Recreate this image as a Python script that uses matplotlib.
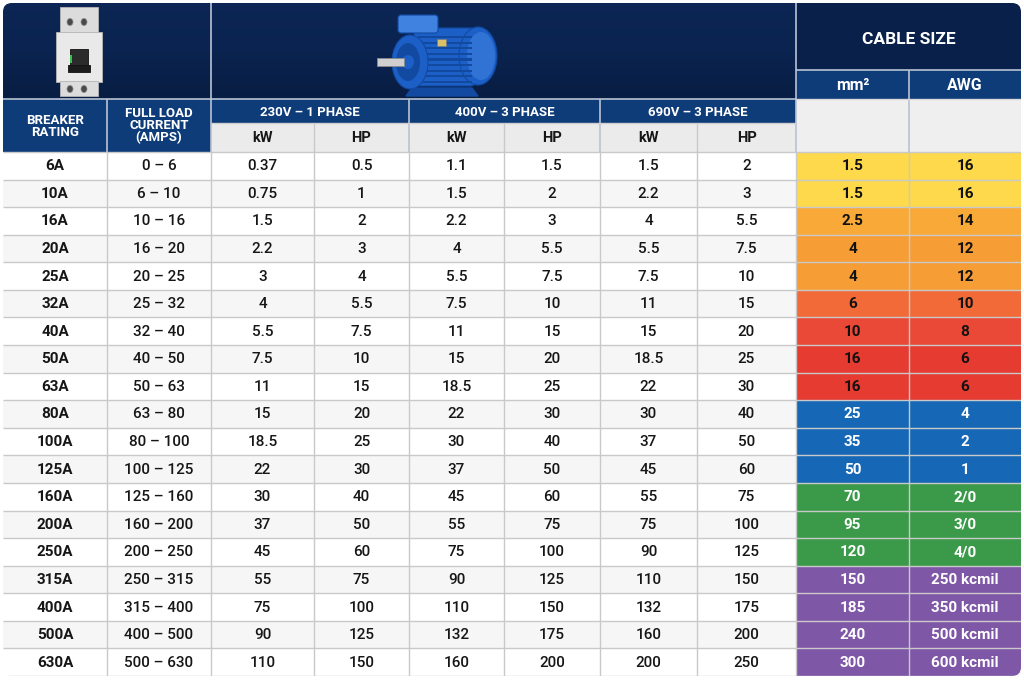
import matplotlib
matplotlib.use("Agg")
import matplotlib.pyplot as plt
from matplotlib.patches import Rectangle, FancyBboxPatch, Ellipse, Polygon

plt.rcParams['font.family'] = ['Roboto', 'DejaVu Sans']

# ---------------- data ----------------
breaker = ["6A", "10A", "16A", "20A", "25A", "32A", "40A", "50A", "63A", "80A",
           "100A", "125A", "160A", "200A", "250A", "315A", "400A", "500A", "630A"]
flc = ["0 – 6", "6 – 10", "10 – 16", "16 – 20", "20 – 25", "25 – 32", "32 – 40",
       "40 – 50", "50 – 63", "63 – 80", "80 – 100", "100 – 125", "125 – 160",
       "160 – 200", "200 – 250", "250 – 315", "315 – 400", "400 – 500", "500 – 630"]
kw230 = ["0.37", "0.75", "1.5", "2.2", "3", "4", "5.5", "7.5", "11", "15", "18.5",
         "22", "30", "37", "45", "55", "75", "90", "110"]
hp230 = ["0.5", "1", "2", "3", "4", "5.5", "7.5", "10", "15", "20", "25", "30",
         "40", "50", "60", "75", "100", "125", "150"]
kw400 = ["1.1", "1.5", "2.2", "4", "5.5", "7.5", "11", "15", "18.5", "22", "30",
         "37", "45", "55", "75", "90", "110", "132", "160"]
hp400 = ["1.5", "2", "3", "5.5", "7.5", "10", "15", "20", "25", "30", "40", "50",
         "60", "75", "100", "125", "150", "175", "200"]
kw690 = ["1.5", "2.2", "4", "5.5", "7.5", "11", "15", "18.5", "22", "30", "37",
         "45", "55", "75", "90", "110", "132", "160", "200"]
hp690 = ["2", "3", "5.5", "7.5", "10", "15", "20", "25", "30", "40", "50", "60",
         "75", "100", "125", "150", "175", "200", "250"]
mm2 = ["1.5", "1.5", "2.5", "4", "4", "6", "10", "16", "16", "25", "35", "50",
       "70", "95", "120", "150", "185", "240", "300"]
awg = ["16", "16", "14", "12", "12", "10", "8", "6", "6", "4", "2", "1", "2/0",
       "3/0", "4/0", "250 kcmil", "350 kcmil", "500 kcmil", "600 kcmil"]

group_labels = ["230V – 1 PHASE", "400V – 3 PHASE", "690V – 3 PHASE"]
sub_labels = ["kW", "HP"]
cable_title = "CABLE SIZE"
cable_sub = ["mm²", "AWG"]
left_headers = ["BREAKER\nRATING", "FULL LOAD\nCURRENT\n(AMPS)"]

cable_colors = ["#fdd94b", "#fdd94b", "#f9a937", "#f69d36", "#f69d36", "#f36a39",
                "#ea4937", "#e63b31", "#e63b31", "#1668b6", "#1668b6", "#1668b6",
                "#3a9a49", "#3a9a49", "#3a9a49", "#7f57a7", "#7f57a7", "#7f57a7",
                "#7f57a7"]
cable_text = ["#111111"] * 9 + ["#ffffff"] * 10

# ---------------- layout (pixel space) ----------------
W, H = 1024, 683
xe = [3, 107, 211, 314, 409, 504, 600, 697, 796, 909, 1021]
y_top, y_img, y_grp, y_sub, y_data = 3, 99, 123, 152, 152
y_cab_t = 70
nrows = len(breaker)
y_bot = 676
rh = (y_bot - y_data) / nrows

NAVY = "#0a2350"
NAVY2 = "#08204a"
BLUE = "#0e3c79"
LGRAY = "#ebebeb"
GRID = "#c9c9c9"
TXT = "#161616"

fig = plt.figure(figsize=(W / 100, H / 100), dpi=100)
ax = fig.add_axes([0, 0, 1, 1])
ax.set_xlim(0, W)
ax.set_ylim(H, 0)
ax.axis("off")

clip = FancyBboxPatch((xe[0], y_top), xe[-1] - xe[0], y_bot - y_top,
                      boxstyle="round,pad=0,rounding_size=9",
                      facecolor="none", edgecolor="none", transform=ax.transData)
ax.add_patch(clip)

def rect(x0, y0, x1, y1, fc, ec="none", lw=0, z=1):
    r = Rectangle((x0, y0), x1 - x0, y1 - y0, facecolor=fc, edgecolor=ec, lw=lw, zorder=z)
    ax.add_patch(r)
    r.set_clip_path(clip)
    return r

def line(xs, ys, c=GRID, lw=1.0, z=3):
    l, = ax.plot(xs, ys, color=c, lw=lw, zorder=z, solid_capstyle="butt")
    l.set_clip_path(clip)

# top header blocks
rect(xe[0], y_top, xe[8], y_img, NAVY)
rect(xe[8], y_top, xe[10], y_cab_t, NAVY2)
rect(xe[8], y_cab_t, xe[10], y_img, BLUE)
for i in range(12):
    a = 0.025
    rect(xe[0], y_top + i * 8, xe[8], y_top + i * 8 + 8, "#000000" if i > 5 else "#1a3a70", z=1.1).set_alpha(a * (abs(i - 5)))

# second header row
rect(xe[0], y_img, xe[2], y_sub, BLUE)
for g in range(3):
    rect(xe[2 + 2 * g], y_img, xe[4 + 2 * g], y_grp, BLUE)
    rect(xe[2 + 2 * g], y_grp, xe[4 + 2 * g], y_sub, LGRAY)
rect(xe[8], y_img, xe[10], y_sub, "#efefef")

# data rows
for i in range(nrows):
    y0 = y_data + i * rh
    rect(xe[0], y0, xe[8], y0 + rh, "#ffffff" if i % 2 == 0 else "#f6f6f6")
    rect(xe[8], y0, xe[10], y0 + rh, cable_colors[i])

for i in range(nrows + 1):
    y = y_data + i * rh
    line([xe[0], xe[10]], [y, y], GRID, 1.0)
for x in xe[1:-1]:
    line([x, x], [y_data, y_bot], GRID, 1.0)
hdr_line = "#b9c3d3"
line([xe[2], xe[2]], [y_top, y_sub], hdr_line, 1.2)
line([xe[8], xe[8]], [y_top, y_sub], hdr_line, 1.2)
line([xe[0], xe[8]], [y_img, y_img], hdr_line, 1.2)
line([xe[8], xe[10]], [y_cab_t, y_cab_t], hdr_line, 1.2)
line([xe[9], xe[9]], [y_cab_t, y_sub], hdr_line, 1.2)
line([xe[1], xe[1]], [y_img, y_sub], hdr_line, 1.2)
for g in range(1, 3):
    line([xe[2 + 2 * g], xe[2 + 2 * g]], [y_img, y_sub], hdr_line, 1.2)
for g in range(3):
    line([xe[3 + 2 * g], xe[3 + 2 * g]], [y_grp, y_sub], GRID, 1.0)
    line([xe[2 + 2 * g], xe[4 + 2 * g]], [y_grp, y_grp], "#d0d0d0", 1.0)
line([xe[8], xe[10]], [y_img, y_img], "#d8d8d8", 1.0)

# ---------------- header text ----------------
cx = lambda j: (xe[j] + xe[j + 1]) / 2
ax.text(cx(0), (y_img + y_sub) / 2 + 1, left_headers[0], ha="center", va="center",
        color="white", fontsize=9.5, fontweight="bold", linespacing=1.0, zorder=5)
ax.text(cx(1), (y_img + y_sub) / 2, left_headers[1], ha="center", va="center",
        color="white", fontsize=9.5, fontweight="bold", linespacing=0.9, zorder=5)
for g in range(3):
    ax.text((xe[2 + 2 * g] + xe[4 + 2 * g]) / 2, (y_img + y_grp) / 2 + 1, group_labels[g],
            ha="center", va="center", color="white", fontsize=9.5, fontweight="bold", zorder=5)
    for k in range(2):
        ax.text(cx(2 + 2 * g + k), (y_grp + y_sub) / 2 + 1, sub_labels[k], ha="center",
                va="center", color=TXT, fontsize=10.5, fontweight="bold", zorder=5)
ax.text((xe[8] + xe[10]) / 2, (y_top + y_cab_t) / 2 + 3, cable_title, ha="center",
        va="center", color="white", fontsize=12.5, fontweight="bold", zorder=5)
for k in range(2):
    ax.text(cx(8 + k), (y_cab_t + y_img) / 2 + 1, cable_sub[k], ha="center", va="center",
            color="white", fontsize=11.5, fontweight="bold", zorder=5)

# ---------------- data text ----------------
cols = [breaker, flc, kw230, hp230, kw400, hp400, kw690, hp690]
for i in range(nrows):
    yc = y_data + (i + 0.5) * rh + 0.5
    for j, col in enumerate(cols):
        ax.text(cx(j), yc, col[i], ha="center", va="center", color=TXT,
                fontsize=11, fontweight="bold" if j == 0 else "medium", zorder=5)
    ax.text(cx(8), yc, mm2[i], ha="center", va="center", color=cable_text[i],
            fontsize=11, fontweight="semibold", zorder=5)
    ax.text(cx(9), yc, awg[i], ha="center", va="center", color=cable_text[i],
            fontsize=11, fontweight="bold", zorder=5)

# ---------------- breaker illustration ----------------
bx0, bx1 = 58, 100
ax.add_patch(Rectangle((bx0 + 2, 7), bx1 - bx0 - 4, 26, fc="#dcdcdc", ec="#b5b5b5", lw=0.6, zorder=6))
ax.add_patch(Rectangle((bx0 - 2, 32), bx1 - bx0 + 4, 50, fc="#e9e9e9", ec="#b5b5b5", lw=0.6, zorder=6))
ax.add_patch(Rectangle((bx0 + 2, 81), bx1 - bx0 - 4, 15, fc="#dcdcdc", ec="#b5b5b5", lw=0.6, zorder=6))
for xx in (bx0 + 10, bx0 + 24):
    ax.add_patch(Ellipse((xx + 2, 22), 6, 7, fc="#4a4a4a", ec="#888888", lw=0.5, zorder=7))
    ax.add_patch(Ellipse((xx + 2, 89), 6, 7, fc="#4a4a4a", ec="#888888", lw=0.5, zorder=7))
ax.add_patch(Rectangle((bx0 + 12, 49), 18, 22, fc="#2b2b2b", ec="#111111", lw=0.6, zorder=7))
ax.add_patch(Rectangle((bx0 + 10, 65), 22, 7, fc="#1c1c1c", ec="#111111", lw=0.6, zorder=7))
ax.add_patch(Rectangle((bx0 + 12, 55), 2, 8, fc="#35c24a", ec="none", zorder=8))

# ---------------- motor illustration ----------------
mb = "#1c5fc6"
mbd = "#124aa2"
mbl = "#3f82e0"
ax.add_patch(FancyBboxPatch((414, 28), 62, 58, boxstyle="round,pad=0,rounding_size=6",
                            fc=mb, ec=mbd, lw=0.8, zorder=6))
for k in range(9):
    yy = 36 + k * 5.6
    ax.add_patch(Rectangle((418, yy), 54, 2.2, fc=mbd, ec="none", zorder=7))
ax.add_patch(Ellipse((478, 56), 38, 58, fc=mb, ec=mbd, lw=0.8, zorder=6))
ax.add_patch(Ellipse((481, 56), 28, 48, fc=mbl, ec="none", alpha=0.6, zorder=6))
ax.add_patch(Ellipse((410, 62), 36, 54, fc=mb, ec=mbd, lw=0.8, zorder=7))
ax.add_patch(Ellipse((408, 62), 24, 38, fc=mbd, ec="none", zorder=7))
ax.add_patch(Ellipse((408, 62), 12, 14, fc=mb, ec="none", zorder=7))
ax.add_patch(Rectangle((377, 58), 27, 8, fc="#cfcfcf", ec="#8a8a8a", lw=0.6, zorder=8))
ax.add_patch(FancyBboxPatch((398, 15), 40, 18, boxstyle="round,pad=0,rounding_size=3",
                            fc=mbl, ec=mbd, lw=0.8, zorder=8))
ax.add_patch(Rectangle((437, 39), 9, 7, fc="#d9c06a", ec="#777777", lw=0.4, zorder=8))
ax.add_patch(Polygon([[412, 88], [472, 88], [478, 96], [406, 96]], closed=True,
                     fc=mbd, ec=mbd, zorder=6))

fig.savefig("out.png", dpi=100, facecolor="white")
